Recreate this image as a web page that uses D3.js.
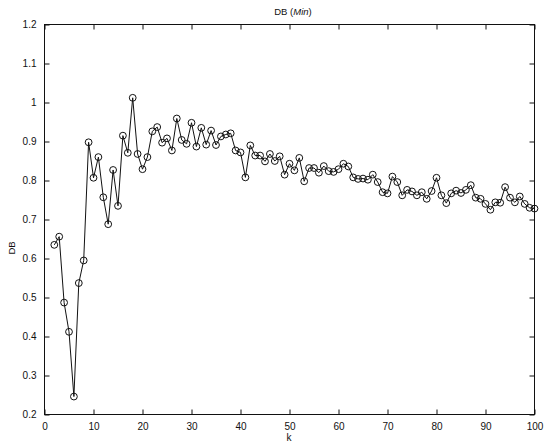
<!DOCTYPE html>
<html><head><meta charset="utf-8">
<script src="https://cdn.jsdelivr.net/npm/d3@7"></script>
<style>
body{margin:0;background:#fff}
svg{display:block}
text{font-family:"Liberation Sans",Arial,Helvetica,sans-serif;fill:#111}
</style>
</head><body>
<svg id="chart" width="544" height="446"></svg>
<script>
// ---- data ----
const kValues = [2,3,4,5,6,7,8,9,10,11,12,13,14,15,16,17,18,19,20,21,22,23,24,25,26,27,28,29,30,31,32,33,34,35,36,37,38,39,40,41,42,43,44,45,46,47,48,49,50,51,52,53,54,55,56,57,58,59,60,61,62,63,64,65,66,67,68,69,70,71,72,73,74,75,76,77,78,79,80,81,82,83,84,85,86,87,88,89,90,91,92,93,94,95,96,97,98,99,100];
const dbValues = [0.635,0.656,0.487,0.412,0.246,0.537,0.595,0.898,0.807,0.860,0.757,0.688,0.827,0.735,0.915,0.871,1.012,0.868,0.829,0.860,0.926,0.937,0.897,0.908,0.877,0.959,0.904,0.894,0.948,0.887,0.935,0.892,0.928,0.891,0.913,0.918,0.921,0.877,0.872,0.808,0.890,0.864,0.864,0.849,0.868,0.850,0.862,0.815,0.843,0.826,0.858,0.798,0.832,0.832,0.820,0.837,0.824,0.822,0.829,0.843,0.836,0.808,0.804,0.805,0.802,0.815,0.796,0.770,0.767,0.810,0.796,0.762,0.776,0.772,0.762,0.770,0.753,0.773,0.807,0.762,0.742,0.767,0.774,0.768,0.776,0.788,0.756,0.753,0.740,0.725,0.744,0.743,0.783,0.756,0.744,0.759,0.740,0.730,0.728];
const xTickValues = [0,10,20,30,40,50,60,70,80,90,100];
const xTickLabels = ["0","10","20","30","40","50","60","70","80","90","100"];
const yTickValues = [0.2,0.3,0.4,0.5,0.6,0.7,0.8,0.9,1.0,1.1,1.2];
const yTickLabels = ["0.2","0.3","0.4","0.5","0.6","0.7","0.8","0.9","1","1.1","1.2"];
const titleParts = ["DB (", "Min", ")"];
const xLabel = "k";
const yLabel = "DB";

// ---- layout ----
const W = 544, H = 446;
const m = {left:44, right:10, top:24, bottom:32};
const svg = d3.select("#chart");
const x = d3.scaleLinear().domain([0,100]).range([m.left, W - m.right]);
const y = d3.scaleLinear().domain([0.2,1.2]).range([H - m.bottom, m.top]);
const ink = "#111";

const g = svg.append("g").attr("transform","translate(0.5,0.5)");

// box
g.append("rect")
  .attr("x", x(0)).attr("y", y(1.2))
  .attr("width", x(100)-x(0)).attr("height", y(0.2)-y(1.2))
  .attr("fill","none").attr("stroke",ink).attr("stroke-width",1);

const tickLen = 5;
function styleAxis(sel, showLabels){
  sel.select(".domain").remove();
  sel.selectAll(".tick line").attr("stroke",ink);
  sel.selectAll(".tick text").attr("font-size","10px").attr("fill",ink);
  if(!showLabels) sel.selectAll(".tick text").remove();
}
// bottom
g.append("g").attr("transform",`translate(0,${y(0.2)})`)
  .call(d3.axisBottom(x).tickValues(xTickValues).tickFormat((d,i)=>xTickLabels[i]).tickSizeInner(-tickLen).tickSizeOuter(0).tickPadding(8))
  .call(s=>styleAxis(s,true));
// top
g.append("g").attr("transform",`translate(0,${y(1.2)})`)
  .call(d3.axisTop(x).tickValues(xTickValues).tickSizeInner(-tickLen).tickSizeOuter(0))
  .call(s=>styleAxis(s,false));
// left
g.append("g").attr("transform",`translate(${x(0)},0)`)
  .call(d3.axisLeft(y).tickValues(yTickValues).tickFormat((d,i)=>yTickLabels[i]).tickSizeInner(-tickLen).tickSizeOuter(0).tickPadding(8))
  .call(s=>styleAxis(s,true));
// right
g.append("g").attr("transform",`translate(${x(100)},0)`)
  .call(d3.axisRight(y).tickValues(yTickValues).tickSizeInner(-tickLen).tickSizeOuter(0))
  .call(s=>styleAxis(s,false));

// data
const pts = kValues.map((k,i)=>({k, v: dbValues[i]}));
g.append("path").datum(pts)
  .attr("fill","none").attr("stroke",ink).attr("stroke-width",1)
  .attr("d", d3.line().x(d=>x(d.k)).y(d=>y(d.v)));
g.append("g").selectAll("circle").data(pts).join("circle")
  .attr("cx",d=>x(d.k)).attr("cy",d=>y(d.v)).attr("r",3.4)
  .attr("fill","none").attr("stroke",ink).attr("stroke-width",1);

// labels
const t = svg.append("text").attr("x",(x(0)+x(100))/2 + 4).attr("y",15)
  .attr("text-anchor","middle").attr("font-size","9.5px");
t.append("tspan").text(titleParts[0]);
t.append("tspan").attr("font-style","italic").text(titleParts[1]);
t.append("tspan").text(titleParts[2]);

svg.append("text").attr("x",(x(0)+x(100))/2).attr("y",441)
  .attr("text-anchor","middle").attr("font-size","10px").text(xLabel);

svg.append("text").attr("transform",`translate(15,248) rotate(-90)`)
  .attr("text-anchor","middle").attr("font-size","9.5px").text(yLabel);
</script>
</body></html>
